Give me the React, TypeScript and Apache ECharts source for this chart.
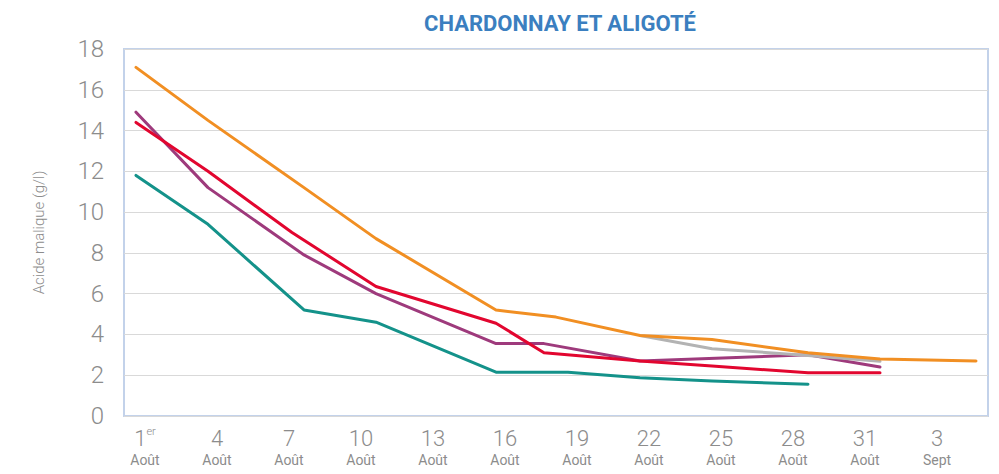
import React, { useEffect, useRef } from "react";
import * as echarts from "echarts";

const TITLE = "CHARDONNAY ET ALIGOTÉ";
const Y_NAME = "Acide malique (g/l)";

// x positions are days counted from 1 August
const LABEL_DAYS = [1, 4, 7, 10, 13, 16, 19, 22, 25, 28, 31, 34];
const LABEL_TOP = ["1", "4", "7", "10", "13", "16", "19", "22", "25", "28", "31", "3"];
const LABEL_BOTTOM = ["Août", "Août", "Août", "Août", "Août", "Août", "Août", "Août", "Août", "Août", "Août", "Sept"];

const TEAL_DAYS = [1, 4, 8, 11, 16, 19, 22, 25, 29];
const TEAL = [11.8, 9.4, 5.2, 4.6, 2.15, 2.15, 1.88, 1.72, 1.56];

const PURPLE_DAYS = [1, 4, 8, 11, 16, 18, 22, 29, 32];
const PURPLE = [14.9, 11.2, 7.9, 6.0, 3.55, 3.55, 2.7, 3.0, 2.4];

const RED_DAYS = [1, 4, 7.5, 11, 16, 18, 22, 25, 29, 32];
const RED = [14.4, 12.0, 9.0, 6.35, 4.55, 3.1, 2.7, 2.45, 2.12, 2.12];

const GRAY_DAYS = [22, 25, 29, 32];
const GRAY = [3.95, 3.3, 2.97, 2.68];

const ORANGE_DAYS = [1, 4, 8, 11, 16, 18.5, 22, 25, 29, 32, 36];
const ORANGE = [17.1, 14.5, 11.2, 8.7, 5.2, 4.85, 3.95, 3.75, 3.1, 2.8, 2.7];

const zip = (xs: number[], ys: number[]) => xs.map((x, i) => [x, ys[i]]);

const TEXT_GRAY = "#8c8c8c";
const FONT = "Roboto";

export default function App() {
  const ref = useRef<HTMLDivElement>(null);
  useEffect(() => {
    if (!ref.current) return;
    const chart = echarts.init(ref.current, undefined, { renderer: "svg" });
    const line = (name: string, xs: number[], ys: number[], color: string) => ({
      name,
      type: "line",
      data: zip(xs, ys),
      showSymbol: false,
      symbol: "none",
      lineStyle: { color, width: 3, cap: "round", join: "round" },
      itemStyle: { color },
    });
    chart.setOption({
      animation: false,
      backgroundColor: "#ffffff",
      title: {
        text: TITLE,
        left: 555,
        textAlign: "center",
        top: 7,
        textStyle: { fontFamily: FONT, fontWeight: 700, fontSize: 22, color: "#3b7fc0" },
      },
      grid: {
        left: 124,
        right: 11,
        top: 49,
        bottom: 58,
        show: true,
        borderColor: "#c3d2ea",
        borderWidth: 2,
        backgroundColor: "transparent",
      },
      xAxis: {
        type: "value",
        min: 0.5,
        max: 36.5,
        axisLine: { show: false },
        axisTick: { show: false },
        splitLine: { show: false },
        axisLabel: {
          customValues: LABEL_DAYS,
          margin: 10,
          padding: [0, 0, 0, 18],
          formatter: (v: number) => {
            const i = LABEL_DAYS.indexOf(Math.round(v));
            if (i < 0) return "";
            const top = i === 0 ? "{num|1}{sup|er}" : `{num|${LABEL_TOP[i]}}`;
            return `${top}\n{mon|${LABEL_BOTTOM[i]}}`;
          },
          rich: {
            num: { fontFamily: FONT, fontWeight: 300, fontSize: 22, color: TEXT_GRAY, lineHeight: 24 },
            sup: { fontFamily: FONT, fontWeight: 300, fontSize: 11, color: TEXT_GRAY, lineHeight: 24, verticalAlign: "top", padding: [0, 0, 10, 0] },
            mon: { fontFamily: FONT, fontWeight: 400, fontSize: 14, color: TEXT_GRAY, lineHeight: 20 },
          },
        },
      },
      yAxis: {
        type: "value",
        min: 0,
        max: 18,
        interval: 2,
        name: Y_NAME,
        nameLocation: "middle",
        nameGap: 78,
        nameTextStyle: { fontFamily: FONT, fontWeight: 300, fontSize: 15, color: TEXT_GRAY },
        axisLine: { show: false },
        axisTick: { show: false },
        splitLine: { lineStyle: { color: "#d9d9d9", width: 1 } },
        axisLabel: {
          margin: 20,
          fontFamily: FONT,
          fontWeight: 300,
          fontSize: 24,
          color: TEXT_GRAY,
        },
      },
      series: [
        line("Teal", TEAL_DAYS, TEAL, "#14928a"),
        line("Purple", PURPLE_DAYS, PURPLE, "#9e3a7c"),
        line("Red", RED_DAYS, RED, "#e2062f"),
        line("Gray", GRAY_DAYS, GRAY, "#b3b3b3"),
        line("Orange", ORANGE_DAYS, ORANGE, "#f18f23"),
      ],
    });
    return () => chart.dispose();
  }, []);
  return (
    <div
      ref={ref}
      style={{ position: "fixed", left: 0, top: 0, width: 999, height: 474, background: "#fff" }}
    />
  );
}
